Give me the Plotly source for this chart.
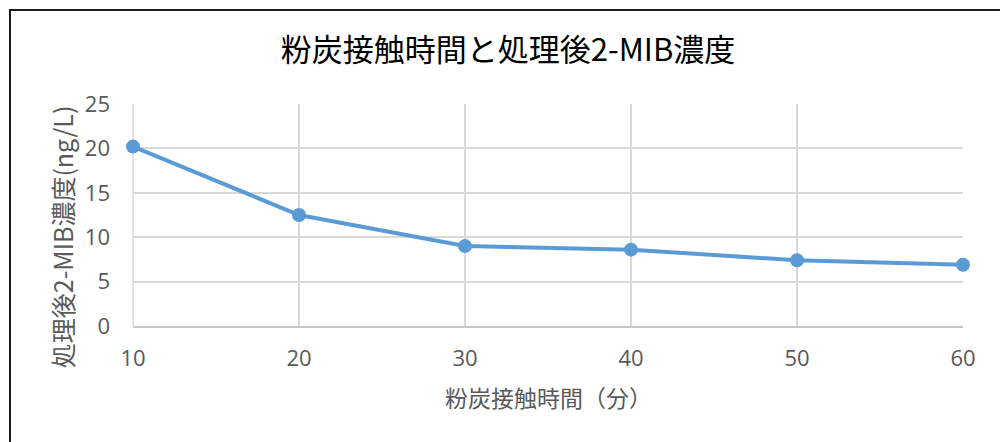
import plotly.graph_objects as go

# 粉炭接触時間 (分) と処理後の2-MIB濃度 (ng/L)
contact_minutes = [10, 20, 30, 40, 50, 60]
mib_conc = [20.2, 12.5, 9.0, 8.6, 7.4, 6.9]

x_ticks = [10, 20, 30, 40, 50, 60]
y_ticks = [0, 5, 10, 15, 20, 25]

title_text = "粉炭接触時間と処理後2-MIB濃度"
x_title = "粉炭接触時間（分）"
y_title = "処理後2-MIB濃度(ng/L)"

FONT = "Noto Sans CJK JP"
TICK_FONT = "Open Sans"
LINE_BLUE = "#5B9BD5"
GRID = "#D9D9D9"
LABEL = "#595959"

fig = go.Figure(
    go.Scatter(
        x=contact_minutes,
        y=mib_conc,
        mode="lines+markers",
        line=dict(color=LINE_BLUE, width=4),
        marker=dict(color=LINE_BLUE, size=14),
        cliponaxis=False,
        showlegend=False,
    )
)

fig.update_layout(
    width=1000,
    height=442,
    paper_bgcolor="white",
    plot_bgcolor="white",
    margin=dict(l=133, r=37, t=104, b=116, autoexpand=False),
    font=dict(family=FONT, color=LABEL, size=21),
    title=dict(
        text=title_text,
        x=0.508,
        xanchor="center",
        y=1 - 50 / 442,
        yanchor="middle",
        yref="container",
        font=dict(family=FONT, size=31, color="#000000"),
    ),
    xaxis=dict(
        range=[10, 60],
        tickmode="array",
        tickvals=x_ticks,
        ticktext=[str(v) for v in x_ticks],
        showgrid=True,
        gridcolor=GRID,
        gridwidth=1.5,
        showline=True,
        linecolor="#C8C8C8",
        linewidth=2,
        zeroline=False,
        ticks="",
        ticklabelstandoff=12,
        tickfont_size=22,
        tickfont_color=LABEL,
        tickfont_family=TICK_FONT,
        automargin=False,
    ),
    yaxis=dict(
        range=[0, 25],
        tickmode="array",
        tickvals=y_ticks,
        ticktext=[str(v) for v in y_ticks],
        showgrid=True,
        gridcolor=GRID,
        gridwidth=1.5,
        showline=False,
        zeroline=False,
        ticks="",
        ticklabelstandoff=22,
        tickfont_size=22,
        tickfont_color=LABEL,
        tickfont_family=TICK_FONT,
        automargin=False,
    ),
    annotations=[
        dict(
            text=x_title,
            x=0.5,
            y=-71 / 222,
            xref="paper",
            yref="paper",
            xanchor="center",
            yanchor="middle",
            showarrow=False,
            font=dict(family=FONT, size=23, color=LABEL),
        ),
        dict(
            text=y_title,
            x=(62 - 133) / 830,
            y=0.40,
            xref="paper",
            yref="paper",
            xanchor="center",
            yanchor="middle",
            textangle=-90,
            showarrow=False,
            font=dict(family=FONT, size=25, color=LABEL),
        ),
    ],
    shapes=[
        # chart frame
        dict(
            type="rect",
            xref="paper",
            yref="paper",
            x0=(10 - 133) / 830,
            x1=(1010 - 133) / 830,
            y0=(326 - 452) / 222,
            y1=(326 - 10) / 222,
            line=dict(color="#1A1A1A", width=2),
            fillcolor="rgba(0,0,0,0)",
            layer="above",
        ),
        # left edge of the plotting area
        dict(
            type="line",
            xref="paper",
            yref="paper",
            x0=0,
            x1=0,
            y0=0,
            y1=1,
            line=dict(color=GRID, width=1.5),
            layer="below",
        ),
    ],
)

fig.write_html("out.html")
